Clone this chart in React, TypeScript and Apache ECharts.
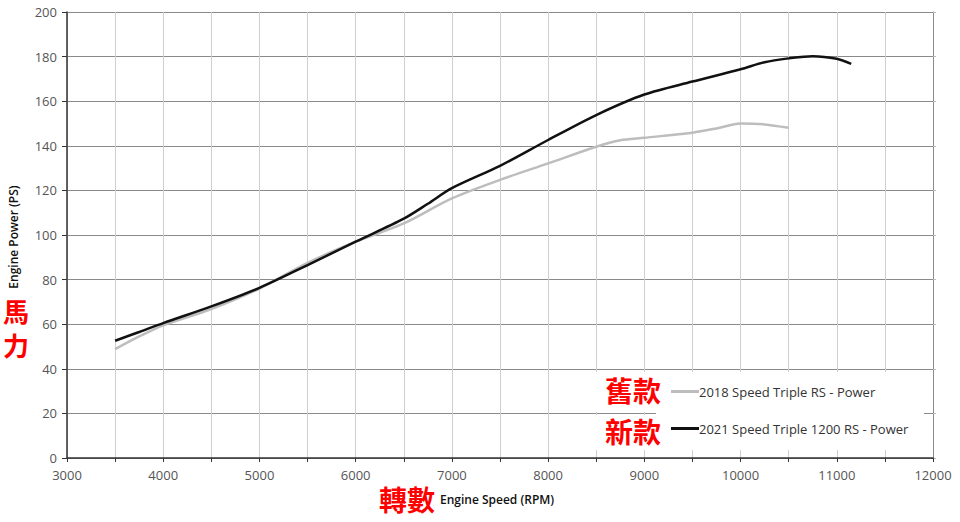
import React, { useEffect, useRef } from "react";
import * as echarts from "echarts";

const rpm2018 = [3500, 3750, 4000, 4500, 5000, 5500, 6000, 6500, 7000, 7500, 8000, 8500, 8750, 9000, 9500, 9750, 10000, 10250, 10500];
const power2018 = [48.8, 54.5, 59.5, 66.8, 76, 87.5, 97, 105.2, 116.4, 124.7, 132.1, 139.6, 142.5, 143.6, 145.9, 147.8, 150, 149.6, 148.1];

const rpm2021 = [3500, 3750, 4000, 4500, 5000, 5500, 6000, 6500, 6750, 7000, 7500, 8000, 8500, 9000, 9500, 10000, 10250, 10500, 10750, 11000, 11150];
const power2021 = [52.6, 56.5, 60.5, 68, 76.3, 86.5, 97, 107.3, 114, 121, 131, 142.6, 153.8, 163, 168.8, 174.3, 177.5, 179.2, 180.2, 179, 176.7];

const name2018 = "2018 Speed Triple RS - Power";
const name2021 = "2021 Speed Triple 1200 RS - Power";

const xMin = 3000;
const xMax = 12000;
const yMin = 0;
const yMax = 200;

export default function App() {
  const ref = useRef<HTMLDivElement>(null);
  useEffect(() => {
    if (!ref.current) return;
    const chart = echarts.init(ref.current, null, { renderer: "svg" });
    const latin = "'Open Sans', sans-serif";
    const cjk = "'Noto Sans CJK TC', sans-serif";
    const redText = (text: string, x: number, y: number, size: number) => ({
      type: "text",
      z: 10,
      x,
      y,
      style: {
        text,
        fill: "#ff0000",
        font: `bold ${size}px ${cjk}`,
        lineHeight: size,
        align: "center",
        verticalAlign: "middle",
      },
    });
    chart.setOption({
      animation: false,
      backgroundColor: "#ffffff",
      grid: { left: 67, right: 27, top: 12, bottom: 64 },
      xAxis: {
        type: "value",
        min: xMin,
        max: xMax,
        interval: 500,
        axisLine: { show: true, onZero: false, lineStyle: { color: "#333", width: 1.5 } },
        axisTick: {
          show: true,
          length: 4,
          lineStyle: { color: "#333" },
          interval: (i: number, v: any) => Number(v) % 1000 === 0,
        },
        axisLabel: {
          color: "#555",
          fontSize: 13,
          fontFamily: latin,
          margin: 10,
          formatter: (v: number) => (v % 1000 === 0 ? String(v) : ""),
        },
        splitLine: { show: true, lineStyle: { color: "#cfcfcf", width: 1 } },
      },
      yAxis: [
        {
          type: "value",
          min: yMin,
          max: yMax,
          interval: 20,
          axisLine: { show: true, lineStyle: { color: "#333", width: 1.5 } },
          axisTick: { show: true, length: 5, lineStyle: { color: "#333" } },
          axisLabel: { color: "#555", fontSize: 13, fontFamily: latin, margin: 10 },
          splitLine: { show: true, lineStyle: { color: "#8a8a8a", width: 1 } },
        },
        {
          type: "value",
          position: "right",
          min: yMin,
          max: yMax,
          interval: 20,
          axisLine: { show: true, lineStyle: { color: "#8a8a8a", width: 1 } },
          axisTick: { show: true, length: 3, lineStyle: { color: "#bbb" } },
          axisLabel: { show: false },
          splitLine: { show: false },
        },
      ],
      legend: {
        orient: "vertical",
        left: 666,
        top: 380,
        itemWidth: 28,
        itemHeight: 3,
        itemGap: 24,
        icon: "rect",
        textStyle: { color: "#333", fontSize: 13, fontFamily: latin, padding: [0, 0, 0, -5] },
        data: [name2018, name2021],
      },
      series: [
        {
          name: name2018,
          type: "line",
          smooth: 0.3,
          showSymbol: false,
          symbol: "none",
          data: rpm2018.map((r, i) => [r, power2018[i]]),
          lineStyle: { color: "#bdbdbd", width: 2.5 },
          itemStyle: { color: "#bdbdbd" },
          z: 2,
        },
        {
          name: name2021,
          type: "line",
          smooth: 0.3,
          showSymbol: false,
          symbol: "none",
          data: rpm2021.map((r, i) => [r, power2021[i]]),
          lineStyle: { color: "#111", width: 2.5 },
          itemStyle: { color: "#111" },
          z: 3,
        },
      ],
      graphic: [
        { type: "rect", z: 3, shape: { x: 656, y: 372, width: 268, height: 78 }, style: { fill: "#fff" } },
        { type: "rect", z: 3, shape: { x: 590, y: 372, width: 66, height: 40 }, style: { fill: "#fff" } },
        { type: "rect", z: 3, shape: { x: 590, y: 415, width: 66, height: 35 }, style: { fill: "#fff" } },
        {
          type: "text",
          z: 10,
          x: 13,
          y: 237,
          rotation: Math.PI / 2,
          style: {
            text: "Engine Power (PS)",
            fill: "#111",
            font: `600 12px ${latin}`,
            align: "center",
            verticalAlign: "middle",
          },
        },
        {
          type: "text",
          z: 10,
          x: 440,
          y: 499,
          style: {
            text: "Engine Speed (RPM)",
            fill: "#111",
            font: `600 12px ${latin}`,
            align: "left",
            verticalAlign: "middle",
          },
        },
        redText("馬", 16, 310, 26),
        redText("力", 16, 344, 26),
        redText("舊款", 633, 390, 28),
        redText("新款", 633, 431, 28),
        redText("轉數", 407, 499, 28),
      ],
    });
    return () => chart.dispose();
  }, []);
  return <div ref={ref} style={{ width: 960, height: 522, position: "absolute", left: 0, top: 0 }} />;
}
